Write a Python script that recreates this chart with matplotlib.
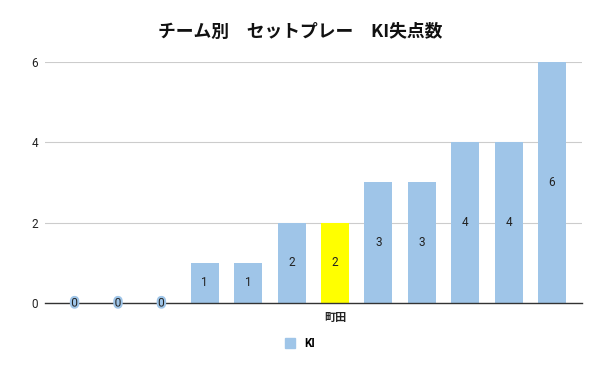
import matplotlib
matplotlib.use("Agg")
import matplotlib.pyplot as plt
import matplotlib.patheffects as pe
from matplotlib.patches import Patch

plt.rcParams['font.family'] = ['Roboto', 'Noto Sans CJK JP', 'DejaVu Sans']

# data
teams = ['', '', '', '', '', '', '町田', '', '', '', '', '']
ki_goals = [0, 0, 0, 1, 1, 2, 2, 3, 3, 4, 4, 6]
highlight = '町田'

blue = '#9fc5e8'
yellow = '#ffff00'

fig = plt.figure(figsize=(6, 3.71), dpi=100)
ax = fig.add_axes([0.075, 0.1833, 0.895, 0.6496])

x = list(range(len(ki_goals)))
colors = [yellow if t == highlight else blue for t in teams]
bars = ax.bar(x, ki_goals, width=0.645, color=colors, zorder=2)

# value labels in the middle of each bar
for xi, v in zip(x, ki_goals):
    t = ax.text(xi, v / 2, str(v), ha='center', va='center',
                fontsize=8.5, color='#222222', zorder=4)
    if v == 0:
        t.set_path_effects([pe.withStroke(linewidth=3, foreground=blue)])

ax.set_xlim(-0.68, 11.69)
ax.set_ylim(0, 6)
ax.set_yticks([0, 2, 4, 6])
ax.set_xticks(x)
ax.set_xticklabels(teams, fontsize=8, color='#222222',
                   family=['Noto Sans CJK JP'], fontweight='bold')
ax.tick_params(axis='x', length=0, pad=6)
ax.tick_params(axis='y', length=0, pad=5, labelsize=8.5, labelcolor='#222222')
ax.grid(axis='y', color='#cccccc', linewidth=0.8, zorder=0)
for s in ['top', 'right', 'left']:
    ax.spines[s].set_visible(False)
ax.spines['bottom'].set_color('#333333')
ax.spines['bottom'].set_linewidth(1)
ax.spines['bottom'].set_zorder(3)

fig.text(0.5, 0.915, 'チーム別　セットプレー　KI失点数', ha='center', va='center',
         fontsize=12.8, fontweight='bold', color='#111111',
         family=['Noto Sans CJK JP'])

fig.legend(handles=[Patch(color=blue, label='KI')], loc='center',
           bbox_to_anchor=(0.5, 0.073), frameon=False,
           handlelength=0.9, handleheight=0.9, handletextpad=0.8,
           prop={'weight': 'bold', 'size': 8.5})

fig.savefig('out.png', dpi=100)
